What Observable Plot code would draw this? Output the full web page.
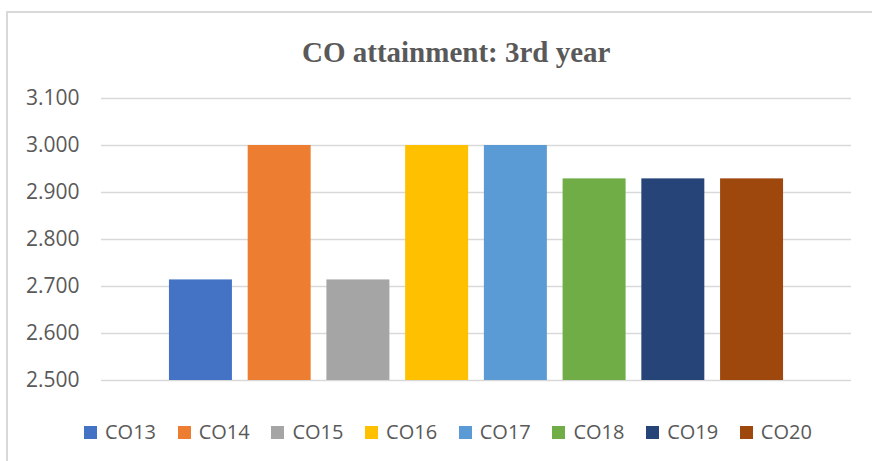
<!DOCTYPE html>
<html>
<head>
<meta charset="utf-8">
<script src="https://cdn.jsdelivr.net/npm/d3@7"></script>
<script src="https://cdn.jsdelivr.net/npm/@observablehq/plot@0.6"></script>
<style>
  html, body { margin: 0; padding: 0; background: #fff; }
  #frame {
    position: relative;
    margin-left: 6px; margin-top: 11px;
    width: 864px; height: 448px;
    border-left: 2px solid #d9d9d9; border-top: 2px solid #d9d9d9;
    overflow: hidden;
  }
  #title {
    padding-top: 25px; height: 29px; line-height: 29px;
    font-family: "Liberation Serif", "Times New Roman", serif;
    font-weight: bold; font-size: 29px; color: #595959;
    padding-left: 294px; white-space: nowrap;
  }
  #legend {
    display: flex; margin-top: 28px; padding-left: 76px;
    font-family: "Open Sans", sans-serif; font-size: 20px; color: #595959;
    line-height: 20px;
  }
  .item { display: flex; align-items: center; width: 93.7px; }
  .sw { width: 13px; height: 13px; margin-right: 8px; flex: none; }
</style>
</head>
<body>
<div id="frame">
  <div id="title">CO attainment: 3rd year</div>
  <div id="chart"></div>
  <div id="legend"></div>
</div>
<script>
const categories = ["CO13", "CO14", "CO15", "CO16", "CO17", "CO18", "CO19", "CO20"];
const values = [2.714, 3.000, 2.714, 3.000, 3.000, 2.929, 2.929, 2.929];
const colors = ["#4472C4", "#ED7D31", "#A5A5A5", "#FFC000", "#5B9BD5", "#70AD47", "#264478", "#9E480E"];
const yTicks = [2.5, 2.6, 2.7, 2.8, 2.9, 3.0, 3.1];
const yMin = 2.5, yMax = 3.1;

const data = categories.map((c, i) => ({co: c, value: values[i]}));

const plot = Plot.plot({
  width: 864,
  height: 327,
  marginLeft: 93,
  marginRight: 21,
  marginTop: 31,
  marginBottom: 14,
  style: {fontFamily: "'Open Sans', sans-serif", fontSize: "21px", color: "#595959", background: "transparent"},
  x: {domain: categories, paddingInner: 0.2, paddingOuter: 0.863, round: false, axis: null},
  y: {domain: [yMin, yMax], ticks: yTicks, tickFormat: d3.format(".3f")},
  color: {domain: categories, range: colors},
  marks: [
    Plot.ruleY(yTicks, {stroke: "#d9d9d9", strokeWidth: 1.6}),
    Plot.axisY({ticks: yTicks, tickFormat: d3.format(".3f"), tickSize: 0, tickPadding: 22, fill: "#595959", fontSize: 21, label: null}),
    Plot.barY(data, {x: "co", y1: () => yMin, y2: "value", fill: "co"})
  ]
});
document.getElementById("chart").appendChild(plot);

const legend = document.getElementById("legend");
categories.forEach((c, i) => {
  const item = document.createElement("div");
  item.className = "item";
  const sw = document.createElement("span");
  sw.className = "sw";
  sw.style.background = colors[i];
  const t = document.createElement("span");
  t.textContent = c;
  item.appendChild(sw);
  item.appendChild(t);
  legend.appendChild(item);
});
</script>
</body>
</html>
